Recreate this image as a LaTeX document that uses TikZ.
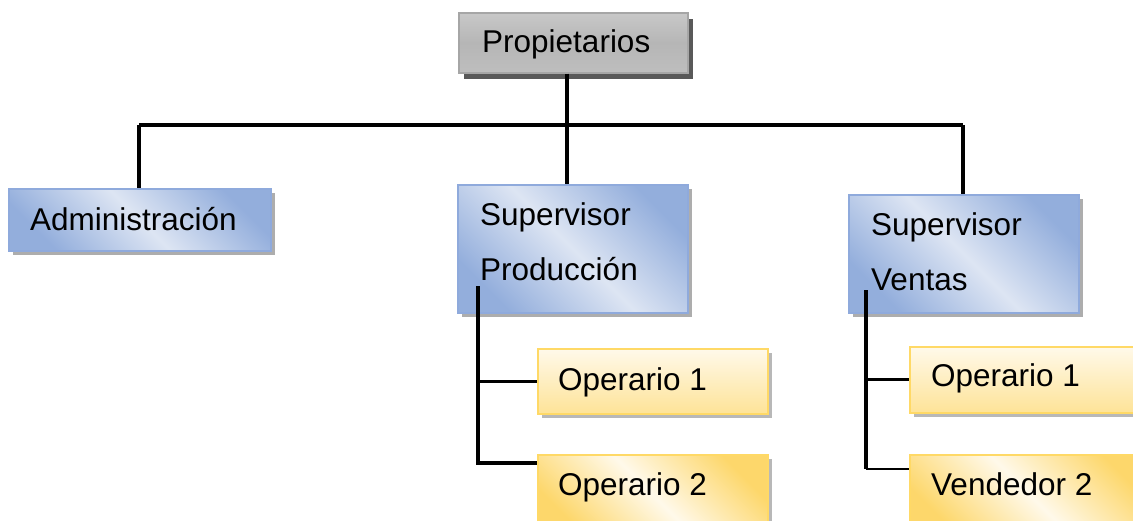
\documentclass[tikz,border=0pt]{standalone}
\usepackage{fontspec}
\setmainfont{Liberation Sans}
\usetikzlibrary{shadows}

\definecolor{bluedark}{HTML}{93AEDC}
\definecolor{bluelight}{HTML}{DDE5F3}
\definecolor{blueedge}{HTML}{8FAADC}
\definecolor{yelldark}{HTML}{FDD76B}
\definecolor{yelllight}{HTML}{FFF9EA}
\definecolor{yelledge}{HTML}{FFD966}
\definecolor{greytop}{HTML}{C8C8C8}
\definecolor{greymid}{HTML}{B6B6B6}
\definecolor{greybot}{HTML}{BEBEBE}
\definecolor{greyedge}{HTML}{A6A6A6}

\tikzset{
  box/.style={draw, line width=1.5pt, anchor=north west, inner sep=0pt},
  greybox/.style={box, draw=greyedge, top color=greytop, bottom color=greybot, middle color=greymid,
    drop shadow={shadow xshift=5pt, shadow yshift=-6pt, fill=black!65, opacity=1}},
  bluebox/.style={box, draw=blueedge, top color=bluedark, bottom color=bluedark, middle color=bluelight,
    shading angle=-45, drop shadow={shadow xshift=4pt, shadow yshift=-4pt, fill=black!40, opacity=0.8}},
  yellowv/.style={box, draw=yelledge, top color=yelllight, bottom color=yelldark!70,
    drop shadow={shadow xshift=4pt, shadow yshift=-4pt, fill=black!35, opacity=0.8}},
  yellowd/.style={box, draw=yelledge, top color=yelldark, bottom color=yelldark, middle color=yelllight,
    shading angle=-45, drop shadow={shadow xshift=4pt, shadow yshift=-4pt, fill=black!35, opacity=0.8}},
  lbl/.style={anchor=base west, inner sep=0pt, font=\fontsize{31.5}{38}\selectfont},
  wire/.style={line width=3.4pt},
  thinwire/.style={line width=1.8pt},
}

\begin{document}
\begin{tikzpicture}[x=1pt, y=-1pt]
\useasboundingbox (0,0) rectangle (1133,520);
\clip (0,0) rectangle (1133,520);

% connector junctions
\coordinate (busL) at (139,125);
\coordinate (busM) at (567,125);
\coordinate (busR) at (963,125);
\coordinate (spTop) at (478,286);
\coordinate (spBot) at (478,463);
\coordinate (svTop) at (866,290);
\coordinate (svBot) at (866,469);

% boxes
\node[greybox, minimum width=229pt, minimum height=60pt] (prop) at (458,12) {};
\node[bluebox, minimum width=262pt, minimum height=62pt] (adm) at (8,188) {};
\node[bluebox, minimum width=230pt, minimum height=128pt] (sp) at (457,184) {};
\node[bluebox, minimum width=230pt, minimum height=118pt] (sv) at (848,194) {};
\node[yellowv, minimum width=230pt, minimum height=65pt] (po1) at (537,348) {};
\node[yellowd, minimum width=230pt, minimum height=80pt] (po2) at (537,454) {};
\node[yellowv, minimum width=240pt, minimum height=66pt] (vo1) at (909,346) {};
\node[yellowd, minimum width=240pt, minimum height=80pt] (vv2) at (909,454) {};

% labels
\node[lbl] (prop-t) at (482,52) {Propietarios};
\node[lbl] (adm-t) at (30,230) {Administración};
\node[lbl] (sp-t1) at (480,225) {Supervisor};
\node[lbl] (sp-t2) at (480,280) {Producción};
\node[lbl] (sv-t1) at (871,235) {Supervisor};
\node[lbl] (sv-t2) at (871,290) {Ventas};
\node[lbl] (po1-t) at (558,390) {Operario 1};
\node[lbl] (po2-t) at (558,495) {Operario 2};
\node[lbl] (vo1-t) at (931,386) {Operario 1};
\node[lbl] (vv2-t) at (931,495) {Vendedor 2};

% top level connectors
\draw[wire] (busM |- prop.south) -- (busM);
\draw[wire] (busL) -- (busR);
\draw[wire] (busL) -- (busL |- adm.north);
\draw[wire] (busM) -- (busM |- sp.north);
\draw[wire] (busR) -- (busR |- sv.north);

% production branch
\draw[wire] (spTop) -- (spBot) -- (spBot -| po2.west);
\draw[wire] (spTop |- po1.west) -- (po1.west);

% sales branch
\draw[wire] (svTop) -- (svBot);
\draw[wire] (svTop |- vo1.west) -- (vo1.west);
\draw[thinwire] (svBot) -- (svBot -| vv2.west);
\end{tikzpicture}
\end{document}
